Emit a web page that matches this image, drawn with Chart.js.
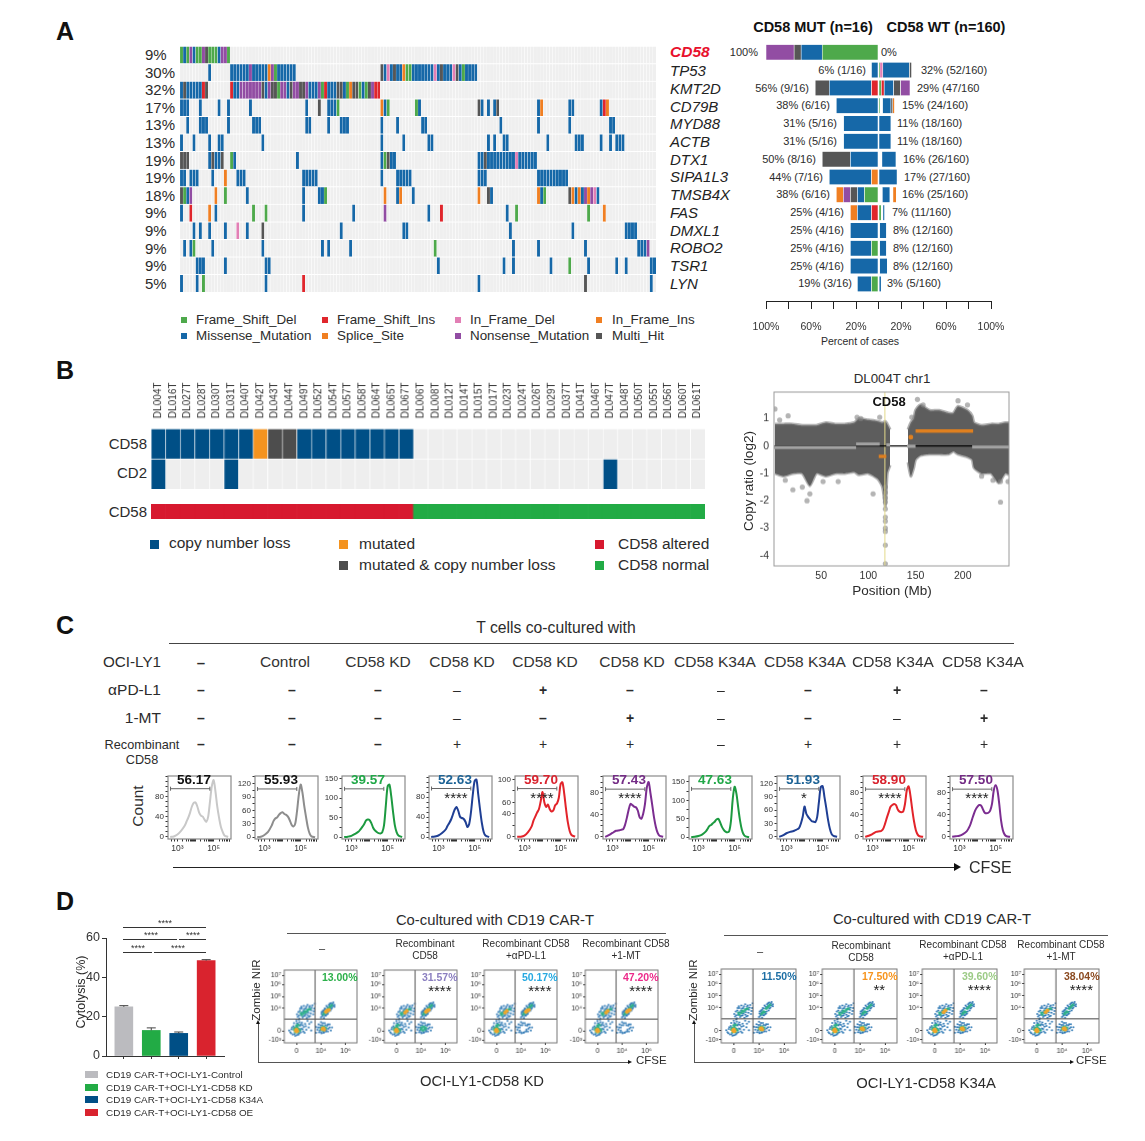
<!DOCTYPE html>
<html>
<head>
<meta charset="utf-8">
<script src="https://cdn.jsdelivr.net/npm/chart.js@4"></script>
<style>
  html, body { margin: 0; background: #fff; }
  #page { position: relative; width: 1145px; height: 1141px; overflow: hidden; font-family: "Liberation Sans", Arial, sans-serif; color: #2b2b2b; }
  #page canvas { position: absolute; }
  .t { position: absolute; white-space: nowrap; line-height: 1; }
  .r { position: absolute; }
</style>
</head>
<body>
<div id="page"></div>
<script>
// ---------- panel A: oncoplot ----------
const oncoGenes = ['CD58','TP53','KMT2D','CD79B','MYD88','ACTB','DTX1','SIPA1L3','TMSB4X','FAS','DMXL1','ROBO2','TSR1','LYN'];
const oncoPct = ['9%','30%','32%','17%','13%','13%','19%','19%','18%','9%','9%','9%','9%','5%'];
const oncoColumnCount = 152;
// D=Frame_Shift_Del I=Frame_Shift_Ins F=In_Frame_Del J=In_Frame_Ins M=Missense S=Splice N=Nonsense H=Multi_Hit
const rowCD58 = [[0,'DMDNMDDNHDDDMNND']];
const rowTP53 = [[9,'M'],[16,'MMMMMMNMMMMMSNDMMMMMM'],[64,'HMFMHMMSDDMMMMMMMFMHMMMFHMDMMMM']];
const rowKMT2D = [[0,'MHMMMMMIH'],[16,'IMMNNNNNNNHMNHHDNNMHNNHHNMMMNDIMMMHHMDSHHDMDHNII']];
const rowCD79B = [[0,'MMM'],[6,'M'],[12,'M'],[15,'M'],[22,'M'],[40,'M'],[44,'H'],[47,'MMMD'],[64,'SMD'],[75,'DM'],[95,'HM'],[98,'M'],[100,'MH'],[114,'MS'],[124,'MM'],[134,'MIS']];
const rowMYD88 = [[2,'M'],[6,'MMM'],[15,'M'],[23,'MMM'],[40,'MM'],[47,'M'],[51,'MMM'],[64,'M'],[69,'M'],[77,'MM'],[102,'M'],[114,'M'],[124,'M'],[137,'MM']];
const rowACTB = [[0,'M'],[4,'M'],[9,'M'],[12,'MM'],[26,'M'],[64,'M'],[71,'M'],[79,'MM'],[98,'M'],[100,'M'],[103,'MM'],[117,'M'],[126,'MMM'],[134,'M'],[137,'M'],[139,'MMM']];
const rowDTX1 = [[0,'HHH'],[9,'MHMMH'],[16,'DM'],[37,'M'],[64,'MDHMM'],[95,'MMHMMMMMMMMMFMMMMMM']];
const rowSIPA1L3 = [[0,'MM'],[3,'MMM'],[10,'M'],[14,'S'],[18,'MMM'],[39,'MMMMM'],[64,'M'],[69,'MMMMM'],[95,'MMM'],[114,'MMMMMMMMMM']];
const rowTMSB4X = [[0,'HDMN'],[11,'S'],[14,'D'],[21,'M'],[39,'M'],[44,'MMD'],[65,'S'],[69,'MS'],[74,'M'],[95,'S'],[98,'HM'],[114,'SMD'],[124,'HSMSMNSNFM']];
const rowFAS = [[0,'M'],[3,'I'],[9,'S'],[11,'M'],[23,'D'],[27,'D'],[39,'M'],[55,'M'],[65,'N'],[79,'M'],[83,'I'],[104,'M'],[107,'D'],[130,'D'],[135,'S']];
const rowDMXL1 = [[4,'M'],[6,'M'],[9,'M'],[14,'M'],[18,'F'],[21,'M'],[26,'H'],[51,'M'],[71,'MM'],[105,'M'],[125,'M'],[142,'MMMM']];
const rowROBO2 = [[1,'M'],[3,'MD'],[10,'M'],[26,'M'],[45,'M'],[47,'M'],[54,'M'],[81,'D'],[106,'M'],[114,'M'],[129,'M'],[146,'MMMN']];
const rowTSR1 = [[5,'MMM'],[14,'M'],[27,'MM'],[82,'M'],[103,'M'],[106,'M'],[118,'M'],[124,'D'],[130,'M'],[139,'M'],[142,'M'],[150,'MM']];
const rowLYN = [[0,'M'],[5,'M'],[7,'D'],[27,'M'],[39,'I'],[95,'M'],[129,'H'],[150,'M']];
const oncoRows = [rowCD58,rowTP53,rowKMT2D,rowCD79B,rowMYD88,rowACTB,rowDTX1,rowSIPA1L3,rowTMSB4X,rowFAS,rowDMXL1,rowROBO2,rowTSR1,rowLYN];

// percent of cases, inner to outer; '_' is an empty stretch
const mutSegments = [
  [['D',50],['M',18.75],['H',6.25],['N',25]],
  [['M',6.25]],
  [['I',6.25],['M',37.5],['H',12.5]],
  [['M',37.5]],
  [['M',31]],
  [['M',31]],
  [['M',25],['H',25]],
  [['S',6.25],['M',37.5]],
  [['D',12.5],['M',6.25],['H',6.25],['N',6.25],['S',6.25]],
  [['I',6.25],['M',12.5],['S',6.25]],
  [['M',25]],
  [['D',6.25],['M',18.75]],
  [['M',25]],
  [['D',6.25],['M',12.5]]
];
const wtSegments = [
  [],
  [['D',1.2],['F',2.6],['M',23.6],['H',2]],
  [['D',2.4],['I',2.6],['M',8.3],['H',6.2],['N',8.5]],
  [['D',1],['_',2.5],['M',7.5],['H',1.6],['S',1.6]],
  [['M',11]],
  [['M',11]],
  [['_',3],['M',12.5]],
  [['M',16.5]],
  [['_',3.3],['M',6.8],['_',2.7],['S',3]],
  [['D',2.4],['_',1.5],['M',1.5]],
  [['_',1],['M',6]],
  [['_',1],['M',6]],
  [['_',1],['M',6.8]],
  [['_',.6],['M',1.8]]
];
const mutLabels = ['100%','6% (1/16)','56% (9/16)','38% (6/16)','31% (5/16)','31% (5/16)','50% (8/16)','44% (7/16)','38% (6/16)','25% (4/16)','25% (4/16)','25% (4/16)','25% (4/16)','19% (3/16)'];
const mutLabelEnd = [758,866,809,830,837,837,816,823,830,844,844,844,844,852];
const wtLabels = ['0%','32% (52/160)','29% (47/160','15% (24/160)','11% (18/160)','11% (18/160)','16% (26/160)','17% (27/160)','16% (25/160)','7% (11/160)','8% (12/160)','8% (12/160)','8% (12/160)','3% (5/160)'];
const wtLabelStart = [881,921,917,902,897,897,903,904,902,892,893,893,893,887];

// ---------- panel B ----------
const heatSamples = ['DL004T','DL016T','DL027T','DL028T','DL030T','DL031T','DL040T','DL042T','DL043T','DL044T','DL049T','DL052T','DL054T','DL057T','DL058T','DL064T','DL065T','DL067T','DL006T','DL008T','DL012T','DL014T','DL015T','DL017T','DL023T','DL024T','DL026T','DL029T','DL037T','DL041T','DL046T','DL047T','DL048T','DL050T','DL055T','DL056T','DL060T','DL061T'];
const heatCD58 = 'LLLLLLLMBBLLLLLLLL____________________';
const heatCD2 = 'L____L_________________________L______';
const heatStatus = 'AAAAAAAAAAAAAAAAAANNNNNNNNNNNNNNNNNNNN';

// copy ratio cloud read as upper and lower envelope per chromosome arm
const armPPos = [1,10,20,30,38,45,55,65,75,85,90,100,110,115,118,120,123];
const armPUp = [.8,.8,.8,.75,.75,.75,.85,.8,.8,.85,1,.95,.9,.85,.9,.8,.6];
const armPLow = [-1,-1.1,-1,-1,-1.45,-1,-1.1,-1,-1,-.95,-1.05,-1,-1.2,-1.5,-2.2,-1,-.7];
const armQPos = [142,145,148,150,155,165,175,185,190,195,205,210,212,220,230,238,245,249];
const armQUp = [.6,.85,1,1.3,1.5,1.3,1.3,1.2,1.2,1.45,1.3,1.1,.85,.75,.8,.8,.85,.85];
const armQLow = [-.6,-1.1,-.8,-.5,-.35,-.3,-.3,-.3,-.2,-.3,-.4,-.5,-.8,-1,-1,-1.35,-1,-1.05];
const copyOutliers = [[1,1.35],[6,.95],[15,1.1],[12,-1.25],[20,-1.6],[30,-1.5],[35,-2],[38,-1.75],[52,-1.3],[68,-1.3],[88,1.05],[92,1],[105,-1.75],[112,1.05],[118,-1.5],[118,-1.7],[118,-1.9],[118,-2.05],[118,-2.3],[118,-2.6],[118,-2.75],[118,-3],[118,-3.12],[118,-3.62],[118,-4.3],[146,1.05],[152,1.7],[158,1.5],[195,1.65],[205,1.5],[220,-1.1],[232,-1.25],[240,-1.3],[240,-2.05],[248,-1.3]];
const copyGraySegs = [[0,87,-.05],[87,112,.07],[119,123,.04],[141,150,-.01],[210,249,-.04]];
const copyOrangeSegs = [[111,119,-.38],[150,211,.55]];
const copyOrangeDots = [[145,.32]];
const copyXTicks = [50,100,150,200];
const copyYTicks = [1,0,-1,-2,-3,-4];

// ---------- panel C ----------
const histX = [2.6,2.8,3,3.2,3.4,3.5,3.6,3.7,3.8,3.9,4,4.1,4.2,4.3,4.4,4.5,4.6,4.7,4.8,4.9,5,5.1,5.2,5.3,5.4,5.5,5.6,5.8];
const histA = [0,1,5,12,22,30,38,48,60,67,68,60,48,42,40,34,30,40,70,100,112,90,60,38,20,10,3,0];
const histB = [0,1,5,12,26,36,42,44,50,54,56,52,50,46,38,28,24,30,58,95,118,100,70,45,22,8,2,0];
const histC = [0,1,3,8,14,20,26,33,42,45,44,36,24,17,13,10,9,12,30,80,130,135,105,65,30,12,4,0];
const histD = [0,1,3,8,15,22,28,35,45,55,60,52,40,38,36,30,20,26,50,85,112,115,85,55,28,10,3,0];
const histE = [0,0,2,8,18,28,35,42,48,62,78,60,52,56,48,44,46,55,58,68,92,95,75,48,25,10,3,0];
const histF = [0,3,7,11,12,13,14,22,35,50,60,58,55,54,48,36,33,42,60,90,100,80,58,35,18,7,2,0];
const histG = [0,1,3,7,15,22,30,33,38,42,48,50,40,28,20,15,13,16,45,105,137,118,80,45,20,7,2,0];
const histH = [0,3,8,11,13,15,17,20,30,45,68,52,45,40,35,34,33,45,80,112,114,90,65,38,18,6,2,0];
const histI = [0,2,5,9,10,11,15,24,35,45,55,58,60,58,50,46,45,46,60,85,92,75,50,28,12,4,1,0];
const histJ = [0,1,2,5,10,15,22,32,42,50,55,58,57,50,44,43,44,48,60,85,94,85,60,30,12,4,1,0];
const histSeries = [histA,histB,histC,histD,histE,histF,histG,histH,histI,histJ];
const histLeft = [168,255,342,429,515,603,689,777,863,950];
const histColor = ['#c8c8c8','#8d8d8d','#1c9a40','#1f3f94','#e2232a','#7b2d90','#1c9a40','#1f3f94','#e2232a','#7b2d90'];
const histValue = ['56.17','55.93','39.57','52.63','59.70','57.43','47.63','51.93','58.90','57.50'];
const histValueColor = ['#111','#111','#21a848','#1d6396','#d9232e','#742c86','#21a848','#1d6396','#d9232e','#742c86'];
const histStars = ['','','','****','****','****','','*','****','****'];
const histMin = [-4,-4,-5,-4,-4,-4,-5,-5,-4,-4];
const histMax = [120,137,157,122,106,111,166,137,111,111];
const histStep = [10,15,25,10,20,10,25,15,10,10];
const histMajor = [[0,40,80],[0,30,60,90,120],[0,50,100,150],[0,40,80],[0,40,60,100],[0,40,80],[0,50,100,150],[0,30,60,90,120],[0,40,80],[0,40,80]];
const histGateY = [95,108,124,97,84,87,131,108,87,87];
const histGateX = [2.62,4.79];
const histXTicks = [2.7,2.85,3,3.3,3.48,3.6,3.7,3.78,3.85,3.9,3.95,4,4.3,4.48,4.6,4.7,4.78,4.85,4.9,4.95,5,5.3,5.48,5.6,5.7,5.78,5.85,5.9];

const cHeaders = ['Control','CD58 KD','CD58 KD','CD58 KD','CD58 KD','CD58 K34A','CD58 K34A','CD58 K34A','CD58 K34A'];
const cHeaderX = [285,378,462,545,632,715,805,893,983];
const cMarkX = [201,292,378,457,543,630,721,808,897,984];
const cPDL1 = ['–','–','–','–','+','–','–','–','+','–'];
const cMT = ['–','–','–','–','–','+','–','–','–','+'];
const cRecomb = ['–','–','–','+','+','+','–','+','+','+'];

// ---------- panel D ----------
const cytoLabels = ['CD19 CAR-T+OCI-LY1-Control','CD19 CAR-T+OCI-LY1-CD58 KD','CD19 CAR-T+OCI-LY1-CD58 K34A','CD19 CAR-T+OCI-LY1-CD58 OE'];
const cytoValues = [25,13,11.5,48.5];
const cytoErrors = [.6,1.3,.7,.5];
const cytoColors = ['#bbbbbf','#22ab45','#004f86','#d9232e'];

const llBlue = [[-.25,-.1],[-.2,.15],[-.15,-.3],[-.12,.4],[-.1,.65],[-.05,-.4],[0,.85],[.02,-.35],[.05,.6],[.1,.95],[.12,-.2],[.15,.45],[.2,.2],[.22,.7],[.28,-.05],[.3,.35],[.35,.6],[.4,.1],[.45,.85],[.5,.3],[-.3,.05],[-.22,-.2],[-.18,.3],[-.08,-.25],[-.02,.25],[.02,.65],[.08,-.3],[.12,.75],[.18,-.1],[.18,.55],[.25,.15],[.25,.5],[.33,-.15],[.38,.4],[.52,.6],[.6,.05],[.6,.75]];
const llGreen = [[-.1,.1],[-.08,.25],[-.05,-.1],[0,.45],[.03,.3],[.06,-.1],[.1,.15],[.14,.05],[.08,.5]];
const llHot = [[-.03,.05],[0,.12],[.03,0],[0,-.03]];
const ulBlue = [[.05,1.2],[.08,1.6],[.12,1.05],[.15,1.9],[.18,1.35],[.2,2.05],[.25,1.15],[.28,1.7],[.3,2.1],[.35,1.3],[.38,1.9],[.42,1.1],[.45,2.2],[.48,1.55],[.52,2],[.55,1.25],[.6,1.75],[.65,2.15],[.68,1.4],[.72,1.9],[.75,2.3],[.02,1.4],[.1,1.3],[.14,1.7],[.22,1.9],[.24,1.55],[.3,1.25],[.32,1.85],[.38,1.45],[.4,2.05],[.46,1.35],[.5,1.2],[.55,2.1],[.58,1.5],[.62,1.95],[.7,1.65]];
const ulGreen = [[.18,1.5],[.22,1.35],[.3,1.5],[.33,1.65],[.4,1.6],[.45,1.75],[.5,1.8],[.55,1.85]];
const ulHot = [[.35,1.55],[.42,1.7]];
const urBlue = [[1,1.15],[1.02,1.45],[1.05,1.25],[1.08,1.7],[1.12,1.1],[1.15,1.9],[1.2,1.3],[1.22,2.1],[1.28,1.45],[1.32,2.2],[1.38,1.7],[1.4,2.35],[1.45,1.95],[1.5,2.4],[1.55,2.2],[1.1,1.55],[1.55,2.05],[1.03,1.6],[1.07,1.35],[1.12,1.75],[1.16,1.3],[1.18,1.85],[1.24,1.4],[1.26,2],[1.3,1.6],[1.34,2.05],[1.42,1.85],[1.47,2.3],[1.36,2.3],[1.5,2.1]];
const urGreen = [[1.1,1.4],[1.14,1.5],[1.18,1.6],[1.22,1.55],[1.28,1.85],[1.32,1.9],[1.36,2],[1.4,2.1],[1.44,2.15]];
const urHot = [[1.2,1.62],[1.24,1.7],[1.28,1.74],[1.32,1.78]];
const lrBlue = [[.85,.1],[.9,.55],[.92,-.1],[.95,.3],[1,.75],[1.02,-.2],[1.05,.5],[1.1,-.15],[1.15,.65],[1.2,-.05],[1.25,.45],[1.3,.2],[1.35,.55],[1.4,.05],[1.45,.3],[.88,.3],[.95,.05],[.98,.5],[1,-.1],[1.07,.65],[1.13,-.1],[1.18,.5],[1.22,.1],[1.28,-.05],[1.28,.55],[1.35,.3],[.8,.35],[.8,-.15]];
const lrGreen = [[1,.15],[1.04,.3],[1.08,.05],[1.12,.35],[1.16,.15],[1.2,.25]];
const lrHot = [[1.06,.18],[1.1,.22],[1.13,.12]];
const flowPops = [[llBlue,llGreen,llHot],[ulBlue,ulGreen,ulHot],[urBlue,urGreen,urHot],[lrBlue,lrGreen,lrHot]];
// how far each population is filled in a panel: 1 sparse, 2 medium, 3 dense
const flowLevels = [[3,2,3,3],[3,3,3,2],[3,3,3,1],[3,3,3,1],[3,2,2,3],[3,2,2,3],[3,3,2,3],[3,3,2,3]];
const flowLeft = [284,384,484,585,721,822,922,1024];
const flowTop = [967,967,967,967,966,966,966,966];
const flowValue = ['13.00%','31.57%','50.17%','47.20%','11.50%','17.50%','39.60%','38.04%'];
const flowValueColor = ['#2cb04a','#8b7fc0','#27a9e1','#ec2a8a','#1c6ea4','#f7941d','#9ccb86','#8b4a20'];
const flowStars = ['','****','****','****','','**','****','****'];
const flowYTicks = [-.75,0,1.9,2.9,3.9,4.7];
const flowYLabels = ['-10³','0','10⁴','10⁵','10⁶','10⁷'];
const flowXLabels = ['0','10⁴','10⁶'];

// ---------- helpers ----------
const page = document.getElementById('page');
Chart.defaults.font.family = '"Liberation Sans", Arial, sans-serif';
Chart.defaults.color = '#333';

function txt(x, y, s, o = {}) {
  const d = document.createElement('div');
  d.className = 't';
  d.textContent = s;
  const a = o.a || 'l';
  const tx = a === 'l' ? '0' : a === 'c' ? '-50%' : '-100%';
  d.style.left = x + 'px';
  d.style.top = y + 'px';
  d.style.transform = `translate(${tx},-50%)` + (o.rot ? ` rotate(${o.rot}deg)` : '');
  d.style.fontSize = (o.s || 12) + 'px';
  if (o.b) d.style.fontWeight = o.b;
  if (o.i) d.style.fontStyle = 'italic';
  if (o.c) d.style.color = o.c;
  page.appendChild(d);
}
function rect(x, y, w, h, c) {
  const d = document.createElement('div');
  d.className = 'r';
  d.style.cssText = `left:${x}px;top:${y}px;width:${w}px;height:${h}px;background:${c}`;
  page.appendChild(d);
}
function arrowRight(x, y, c, size) {
  const d = document.createElement('div');
  d.className = 'r';
  d.style.cssText = `left:${x}px;top:${y - size}px;width:0;height:0;border-top:${size}px solid transparent;border-bottom:${size}px solid transparent;border-left:${size * 1.6}px solid ${c}`;
  page.appendChild(d);
}
function arrowUp(x, y, c, size) {
  const d = document.createElement('div');
  d.className = 'r';
  d.style.cssText = `left:${x - size}px;top:${y}px;width:0;height:0;border-left:${size}px solid transparent;border-right:${size}px solid transparent;border-bottom:${size * 1.6}px solid ${c}`;
  page.appendChild(d);
}

// puts a chart so that its plot area lands exactly on box; m is the room around it for the axes
function addChart(box, m, config) {
  const c = document.createElement('canvas');
  const w = box.w + m.l + m.r, h = box.h + m.t + m.b;
  c.width = w; c.height = h;
  c.style.left = (box.x - m.l) + 'px';
  c.style.top = (box.y - m.t) + 'px';
  c.style.width = w + 'px'; c.style.height = h + 'px';
  page.appendChild(c);
  const opt = config.options;
  const pad = { left: m.l, right: m.r, top: m.t, bottom: m.b };
  for (const id in opt.scales) {
    const a = opt.scales[id];
    if (a.display === false) continue;
    const side = a.position || (id === 'x' ? 'bottom' : 'left');
    pad[side] = 0;
    a.afterFit = (s) => {
      if (s.isHorizontal()) s.height = m[side[0]]; else s.width = m[side[0]];
      s.paddingLeft = s.paddingRight = s.paddingTop = s.paddingBottom = 0;
    };
  }
  opt.layout = { padding: pad };
  opt.responsive = false;
  opt.animation = false;
  opt.events = [];
  opt.plugins = Object.assign({ legend: { display: false }, tooltip: { enabled: false } }, opt.plugins);
  return new Chart(c, config);
}
const boxFrame = (color, width) => ({
  id: 'boxFrame',
  afterDraw(chart) {
    const a = chart.chartArea, g = chart.ctx;
    g.save();
    g.strokeStyle = color;
    g.lineWidth = width;
    g.strokeRect(a.left, a.top, a.right - a.left, a.bottom - a.top);
    g.restore();
  }
});
const pts = (list) => list.map((p) => ({ x: p[0], y: p[1] }));
const seg = (s) => [{ x: s[0], y: s[2] }, { x: s[1], y: s[2] }];

// ---------- panel letters ----------
txt(56, 31, 'A', { s: 25, b: 700, c: '#111' });
txt(56, 370, 'B', { s: 25, b: 700, c: '#111' });
txt(56, 625, 'C', { s: 25, b: 700, c: '#111' });
txt(56, 901, 'D', { s: 25, b: 700, c: '#111' });

// ---------- A oncoplot ----------
const mutColors = { D: '#4ea94b', I: '#e0262c', F: '#e27fb5', J: '#f07f22', M: '#1668a8', S: '#f07f22', N: '#924da3', H: '#565656', _: '#efefef' };
const oncoCols = [];
for (let i = 0; i < oncoColumnCount; i++) oncoCols.push(i);
function expandRow(runs) {
  const out = oncoCols.map(() => mutColors._);
  runs.forEach((r) => [...r[1]].forEach((ch, k) => { out[r[0] + k] = mutColors[ch]; }));
  return out;
}
addChart({ x: 180, y: 45.5, w: 476, h: 246 }, { l: 0, r: 0, t: 0, b: 0 }, {
  type: 'bar',
  data: {
    labels: oncoCols,
    datasets: oncoRows.slice().reverse().map((row) => ({
      data: oncoCols.map(() => 1),
      backgroundColor: expandRow(row),
      borderColor: '#ffffff',
      borderWidth: { top: 1, left: .4, right: 0, bottom: 0 },
      borderSkipped: false,
      barPercentage: 1,
      categoryPercentage: 1
    }))
  },
  options: { scales: { x: { display: false, stacked: true }, y: { display: false, stacked: true, min: 0, max: 14 } } }
});
oncoGenes.forEach((g, i) => {
  txt(145, 54 + 17.6 * i, oncoPct[i], { s: 15 });
  if (i === 0) txt(670, 52, g, { s: 15.5, b: 700, i: 1, c: '#e8112d' });
  else txt(670, 52.5 + 17.7 * i, g, { s: 15, i: 1, c: '#222' });
  txt(mutLabelEnd[i], 52 + 17.8 * i, mutLabels[i], { s: 11, a: 'r' });
  txt(wtLabelStart[i], 52 + 17.8 * i, wtLabels[i], { s: 11 });
});
const legendA = [[181, 320, 'D', 'Frame_Shift_Del', 196], [322, 320, 'I', 'Frame_Shift_Ins', 337], [455, 320, 'F', 'In_Frame_Del', 470], [596, 320, 'J', 'In_Frame_Ins', 612], [181, 336, 'M', 'Missense_Mutation', 196], [322, 336, 'S', 'Splice_Site', 337], [455, 336, 'N', 'Nonsense_Mutation', 470], [596, 336, 'H', 'Multi_Hit', 612]];
legendA.forEach((l) => { rect(l[0], l[1] - 3, 6, 6, mutColors[l[2]]); txt(l[4], l[1], l[3], { s: 13.4 }); });

// ---------- A mirrored bars ----------
txt(813, 27, 'CD58 MUT (n=16)', { s: 14.5, b: 700, a: 'c', c: '#111' });
txt(946, 27, 'CD58 WT (n=160)', { s: 14.5, b: 700, a: 'c', c: '#111' });
function segmentDatasets(rows, sign) {
  const depth = Math.max(...rows.map((r) => r.length));
  const sets = [];
  for (let k = 0; k < depth; k++) {
    sets.push({
      data: rows.map((r, i) => ({ x: r[k] ? sign * r[k][1] : null, y: i })),
      backgroundColor: rows.map((r) => (r[k] && r[k][0] !== '_' ? mutColors[r[k][0]] : 'rgba(0,0,0,0)')),
      borderColor: '#ffffff',
      borderWidth: { left: .6, right: .6, top: 0, bottom: 0 },
      borderSkipped: false,
      barThickness: 15,
      stack: 'all'
    });
  }
  return sets;
}
addChart({ x: 766, y: 40, w: 225, h: 261 }, { l: 16, r: 16, t: 0, b: 32 }, {
  type: 'bar',
  data: { datasets: segmentDatasets(mutSegments, -1).concat(segmentDatasets(wtSegments, 1)) },
  options: {
    indexAxis: 'y',
    scales: {
      y: { display: false, type: 'linear', min: -.69, max: 13.96, reverse: true, offset: false },
      x: {
        type: 'linear', min: -100, max: 100, stacked: true,
        grid: { drawOnChartArea: false, tickLength: 8, color: '#222', tickWidth: 1 },
        border: { color: '#222', width: 1 },
        ticks: {
          stepSize: 20, autoSkip: false, maxRotation: 0, padding: 12, font: { size: 10.5 }, color: '#333',
          callback: (v) => (Math.abs(v) % 40 === 20 || Math.abs(v) === 100 ? Math.abs(v) + '%' : '')
        }
      }
    }
  }
});
txt(860, 341, 'Percent of cases', { s: 10.5, a: 'c' });

// ---------- B heatmap ----------
const heatColors = { L: '#004f86', M: '#f4931f', B: '#4d4d4d', _: '#eeeeee' };
const statusColors = { A: '#d7192f', N: '#22ab45' };
addChart({ x: 151, y: 428, w: 553.5, h: 60.5 }, { l: 0, r: 0, t: 46, b: 0 }, {
  type: 'bar',
  data: {
    labels: heatSamples,
    datasets: [heatCD2, heatCD58].map((row) => ({
      data: heatSamples.map(() => 1),
      backgroundColor: [...row].map((c) => heatColors[c]),
      borderColor: '#ffffff',
      borderWidth: { top: 1.2, left: .8, right: 0, bottom: 0 },
      borderSkipped: false,
      barPercentage: 1,
      categoryPercentage: 1
    }))
  },
  options: {
    scales: {
      x: {
        position: 'top', stacked: true,
        grid: { display: false }, border: { display: false },
        ticks: { autoSkip: false, minRotation: 90, maxRotation: 90, padding: 2, labelOffset: 12, font: { size: 10 }, color: '#333' }
      },
      y: { display: false, stacked: true, min: 0, max: 2 }
    }
  }
});
addChart({ x: 151, y: 504, w: 553.5, h: 15 }, { l: 0, r: 0, t: 0, b: 0 }, {
  type: 'bar',
  data: {
    labels: heatSamples,
    datasets: [{ data: heatSamples.map(() => 1), backgroundColor: [...heatStatus].map((c) => statusColors[c]), barPercentage: 1, categoryPercentage: 1 }]
  },
  options: { scales: { x: { display: false }, y: { display: false, min: 0, max: 1 } } }
});
txt(147, 443, 'CD58', { s: 15, a: 'r' });
txt(147, 472, 'CD2', { s: 15, a: 'r' });
txt(147, 511, 'CD58', { s: 15, a: 'r' });
[[150, 540, '#004f86', 169, 543, 'copy number loss'], [339, 540, '#f4931f', 359, 544, 'mutated'], [339, 561, '#4d4d4d', 359, 565, 'mutated & copy number loss'], [595, 540, '#d7192f', 618, 544, 'CD58 altered'], [595, 561, '#22ab45', 618, 565, 'CD58 normal']].forEach((l) => {
  rect(l[0], l[1], 9, 9, l[2]);
  txt(l[3], l[4], l[5], { s: 15.5 });
});

// ---------- B copy ratio ----------
const bandStyle = { showLine: true, pointRadius: 0, borderColor: 'rgba(110,110,110,.55)', borderWidth: 3, tension: .2, backgroundColor: '#5d5d5d', order: 6 };
addChart({ x: 773.5, y: 389, w: 237.5, h: 176.5 }, { l: 30, r: 2, t: 1, b: 20 }, {
  type: 'scatter',
  data: {
    datasets: [
      Object.assign({ data: armPPos.map((p, i) => ({ x: p, y: armPUp[i] })), fill: '+1' }, bandStyle),
      Object.assign({ data: armPPos.map((p, i) => ({ x: p, y: armPLow[i] })) }, bandStyle),
      Object.assign({ data: armQPos.map((p, i) => ({ x: p, y: armQUp[i] })), fill: '+1' }, bandStyle),
      Object.assign({ data: armQPos.map((p, i) => ({ x: p, y: armQLow[i] })) }, bandStyle),
      { data: pts(copyOutliers), pointRadius: 2.6, backgroundColor: 'rgba(130,130,130,.6)', borderWidth: 0, order: 5 },
      { data: [{ x: 117.5, y: -4.38 }, { x: 117.5, y: 1.97 }], showLine: true, pointRadius: 0, borderColor: '#e3d98a', borderWidth: 1, order: 4 },
      { data: [{ x: 0, y: 0 }, { x: 210, y: 0 }], showLine: true, pointRadius: 0, borderColor: '#000', borderWidth: 1.4, order: 3 }
    ].concat(copyGraySegs.map((s) => ({ data: seg(s), showLine: true, pointRadius: 0, borderColor: '#a3a3a3', borderWidth: 3.2, order: 2 })))
      .concat(copyOrangeSegs.map((s) => ({ data: seg(s), showLine: true, pointRadius: 0, borderColor: '#e0801f', borderWidth: 3.4, order: 1 })))
      .concat([{ data: pts(copyOrangeDots), pointRadius: 2.4, backgroundColor: '#e0801f', borderWidth: 0, order: 1 }])
  },
  options: {
    scales: {
      x: {
        type: 'linear', min: 0, max: 249,
        afterBuildTicks: (s) => { s.ticks = copyXTicks.map((v) => ({ value: v })); },
        grid: { display: false, drawTicks: false }, border: { display: false },
        ticks: { padding: 4, font: { size: 10.5 }, color: '#333', maxRotation: 0, callback: (v) => v }
      },
      y: {
        type: 'linear', min: -4.38, max: 1.97,
        afterBuildTicks: (s) => { s.ticks = copyYTicks.map((v) => ({ value: v })); },
        grid: { display: false, drawTicks: false }, border: { display: false },
        ticks: { padding: 5, font: { size: 10.5 }, color: '#333', callback: (v) => v }
      }
    }
  },
  plugins: [boxFrame('#9a9a9a', 1)]
});
txt(892, 379, 'DL004T chr1', { s: 13.3, a: 'c' });
txt(889, 401, 'CD58', { s: 13, b: 700, a: 'c', c: '#111' });
txt(749, 481, 'Copy ratio (log2)', { s: 13.5, a: 'c', rot: -90 });
txt(892, 591, 'Position (Mb)', { s: 13.5, a: 'c' });

// ---------- C conditions ----------
txt(556, 628, 'T cells co-cultured with', { s: 15.7, a: 'c' });
rect(169, 643, 845, 1, '#444');
txt(103, 662, 'OCI-LY1', { s: 15.2 });
txt(201, 662, '–', { s: 15, b: 700, a: 'c' });
cHeaders.forEach((h, i) => txt(cHeaderX[i], 662, h, { s: 15.5, a: 'c', c: '#333' }));
txt(161, 690, 'αPD-L1', { s: 15.5, a: 'r' });
txt(161, 718, '1-MT', { s: 15.5, a: 'r' });
txt(142, 745, 'Recombinant', { s: 12.7, a: 'c' });
txt(142, 760, 'CD58', { s: 12.7, a: 'c' });
cMarkX.forEach((x, i) => {
  txt(x, 690, cPDL1[i], { s: 14, a: 'c', b: i === 3 || i === 6 ? 400 : 700 });
  txt(x, 718, cMT[i], { s: 14, a: 'c', b: i === 3 || i === 6 || i === 8 ? 400 : 700 });
  txt(x, 744, cRecomb[i], { s: 14, a: 'c', b: i < 3 ? 700 : 400 });
});
txt(138, 806, 'Count', { s: 15.5, a: 'c', rot: -90 });

// ---------- C histograms ----------
histSeries.forEach((series, i) => {
  const major = histMajor[i];
  addChart({ x: histLeft[i], y: 772, w: 67, h: 67 }, { l: 20, r: 1, t: 1, b: 19 }, {
    type: 'scatter',
    data: {
      datasets: [
        { data: series.map((v, k) => ({ x: histX[k], y: v })), showLine: true, tension: .3, pointRadius: 0, borderColor: histColor[i], borderWidth: 2, order: 2 },
        { data: [{ x: histGateX[0], y: histGateY[i] }, { x: histGateX[1], y: histGateY[i] }], showLine: true, borderColor: '#666', borderWidth: 1, pointStyle: 'line', pointRotation: 90, pointRadius: 2, pointBorderColor: '#666', pointBorderWidth: 1, order: 1 }
      ]
    },
    options: {
      scales: {
        x: {
          type: 'linear', min: 2.48, max: 5.96,
          afterBuildTicks: (s) => { s.ticks = histXTicks.map((v) => ({ value: v })); },
          grid: { drawOnChartArea: false, tickLength: 2.5, color: '#333' }, border: { display: false },
          ticks: { autoSkip: false, maxRotation: 0, padding: 2, font: { size: 8.5 }, color: '#333', callback: (v) => (v === 3 ? '10³' : v === 5 ? '10⁵' : '') }
        },
        y: {
          type: 'linear', min: histMin[i], max: histMax[i],
          grid: { drawOnChartArea: false, tickLength: 2.5, color: '#333' }, border: { display: false },
          ticks: { stepSize: histStep[i], autoSkip: false, includeBounds: false, padding: 1.5, font: { size: 8 }, color: '#333', callback: (v) => (major.includes(v) ? v : '') }
        }
      }
    },
    plugins: [boxFrame('#8a8a8a', 1.2)]
  });
  txt(histLeft[i] + 26, 780, histValue[i], { s: 13.5, b: 700, a: 'c', c: histValueColor[i] });
  if (histStars[i]) txt(histLeft[i] + 27, 797, histStars[i], { s: 15, b: 400, a: 'c', c: '#222' });
});
rect(173, 867, 782, 1, '#222');
arrowRight(954, 867.5, '#111', 4.5);
txt(969, 868, 'CFSE', { s: 16 });

// ---------- D cytolysis ----------
const errorBars = {
  id: 'errorBars',
  afterDatasetsDraw(chart) {
    const g = chart.ctx, xs = chart.scales.x, ys = chart.scales.y;
    g.save();
    g.strokeStyle = '#444';
    g.lineWidth = 1;
    cytoValues.forEach((v, i) => {
      const px = xs.getPixelForValue(i), top = ys.getPixelForValue(v + cytoErrors[i]), base = ys.getPixelForValue(v);
      g.beginPath();
      g.moveTo(px, base); g.lineTo(px, top);
      g.moveTo(px - 4.5, top); g.lineTo(px + 4.5, top);
      g.stroke();
    });
    g.restore();
  }
};
addChart({ x: 106, y: 937.5, w: 118, h: 118 }, { l: 24, r: 2, t: 6, b: 6 }, {
  type: 'bar',
  data: {
    datasets: [{ data: cytoValues.map((v, i) => ({ x: i, y: v })), backgroundColor: cytoColors, barThickness: 18 }]
  },
  options: {
    scales: {
      x: {
        type: 'linear', min: -.65, max: 3.65, offset: false,
        afterBuildTicks: (s) => { s.ticks = cytoValues.map((v, i) => ({ value: i })); },
        grid: { drawOnChartArea: false, offset: false, tickLength: 3, color: '#333' }, border: { color: '#333', width: 1 },
        ticks: { callback: () => '' }
      },
      y: {
        type: 'linear', min: 0, max: 60,
        grid: { drawOnChartArea: false, tickLength: 4, color: '#333' }, border: { color: '#333', width: 1 },
        ticks: { stepSize: 20, padding: 2, font: { size: 12.5 }, color: '#333' }
      }
    }
  },
  plugins: [errorBars]
});
txt(81, 992, 'Cytolysis (%)', { s: 12.5, a: 'c', rot: -90 });
[[123, 206, 927], [123, 177, 939], [179, 206, 939], [123, 152, 952], [154, 206, 952]].forEach((l) => rect(l[0], l[2], l[1] - l[0], 1, '#333'));
[[165, 923], [151, 935], [193, 935], [138, 948], [178, 948]].forEach((s) => txt(s[0], s[1], '****', { s: 9, a: 'c', c: '#333' }));
cytoLabels.forEach((l, i) => {
  rect(85, 1071 + i * 12.7, 13, 7, cytoColors[i]);
  txt(106, 1075 + i * 12.7, l, { s: 9.9 });
});

// ---------- D flow plots ----------
const flowColors = ['#2f79b5', '#2fb08a', '#f0a62c'];
const flowRadius = [1, 1.4, 1.9];
flowLevels.forEach((levels, p) => {
  const byColor = [[], [], []];
  levels.forEach((lv, pop) => {
    for (let k = 0; k < lv; k++) byColor[k] = byColor[k].concat(flowPops[pop][k]);
  });
  const w = p < 4 ? 75.5 : 77.5, h = p < 4 ? 75.5 : 77;
  addChart({ x: flowLeft[p], y: flowTop[p], w: w, h: h }, { l: 24, r: 1, t: 1, b: 15 }, {
    type: 'scatter',
    data: {
      datasets: byColor.map((list, k) => ({ data: pts(list), pointRadius: flowRadius[k], backgroundColor: flowColors[k], borderWidth: 0, order: 5 - k }))
        .concat([
          { data: [{ x: .76, y: -1 }, { x: .76, y: 5.13 }], showLine: true, pointRadius: 0, borderColor: '#555', borderWidth: 1, order: 1 },
          { data: [{ x: -.5, y: 1 }, { x: 2.47, y: 1 }], showLine: true, pointRadius: 0, borderColor: '#444', borderWidth: 1, order: 1 }
        ])
    },
    options: {
      scales: {
        x: {
          type: 'linear', min: -.5, max: 2.47,
          afterBuildTicks: (s) => { s.ticks = flowXLabels.map((v, i) => ({ value: i })); },
          grid: { drawOnChartArea: false, tickLength: 2, color: '#222' }, border: { display: false },
          ticks: { autoSkip: false, maxRotation: 0, padding: 2, font: { size: 7 }, color: '#333', callback: (v) => flowXLabels[v] }
        },
        y: {
          type: 'linear', min: -1, max: 5.13,
          afterBuildTicks: (s) => { s.ticks = flowYTicks.map((v) => ({ value: v })); },
          grid: { drawOnChartArea: false, tickLength: 2, color: '#222' }, border: { display: false },
          ticks: { autoSkip: false, padding: 1, font: { size: 7 }, color: '#333', callback: (v) => flowYLabels[flowYTicks.indexOf(v)] }
        }
      }
    },
    plugins: [boxFrame('#777', 1)]
  });
  txt(flowLeft[p] + w - 2, flowTop[p] + 9.5, flowValue[p], { s: 10.5, b: 700, a: 'r', c: flowValueColor[p] });
  if (flowStars[p]) txt(flowLeft[p] + w * .74, flowTop[p] + 23, flowStars[p], { s: 15, a: 'c', c: '#222' });
});

function flowHeader(cx, lineY, x0, x1, titleY, xs, dashY, ys1, ys2, foot, footX, footY) {
  txt(cx, titleY, 'Co-cultured with CD19 CAR-T', { s: 14.8, a: 'c' });
  rect(x0, lineY, x1 - x0, 1, '#555');
  txt(xs[0], dashY, '–', { s: 11, a: 'c' });
  txt(xs[1], ys1[0], 'Recombinant', { s: 10, a: 'c' });
  txt(xs[1], ys2[0], 'CD58', { s: 10, a: 'c' });
  txt(xs[2], ys1[1], 'Recombinant CD58', { s: 10, a: 'c' });
  txt(xs[2], ys2[1], '+αPD-L1', { s: 10, a: 'c' });
  txt(xs[3], ys1[1], 'Recombinant CD58', { s: 10, a: 'c' });
  txt(xs[3], ys2[1], '+1-MT', { s: 10, a: 'c' });
  txt(footX, footY, foot, { s: 14.8, a: 'c' });
}
flowHeader(495, 933, 287, 666, 920, [322, 425, 526, 626], 948, [944, 944], [956, 956], 'OCI-LY1-CD58 KD', 482, 1081);
flowHeader(932, 935, 724, 1108, 919, [760, 861, 963, 1061], 951, [946, 945], [958, 957], 'OCI-LY1-CD58 K34A', 926, 1083);
txt(257, 990, 'Zombie NIR', { s: 11.5, a: 'c', rot: -90 });
txt(694, 990, 'Zombie NIR', { s: 11.5, a: 'c', rot: -90 });
rect(258, 1024, 1, 38, '#555');
rect(258, 1062, 371, 1, '#555');
arrowUp(258.5, 1020, '#111', 2.5);
arrowRight(628, 1062.5, '#111', 2.5);
txt(636, 1061, 'CFSE', { s: 11.5 });
rect(694, 1024, 1, 38, '#555');
rect(694, 1062, 376, 1, '#555');
arrowUp(694.5, 1020, '#111', 2.5);
arrowRight(1070, 1062.5, '#111', 2.5);
txt(1076, 1061, 'CFSE', { s: 11.5 });
</script>
</body>
</html>
